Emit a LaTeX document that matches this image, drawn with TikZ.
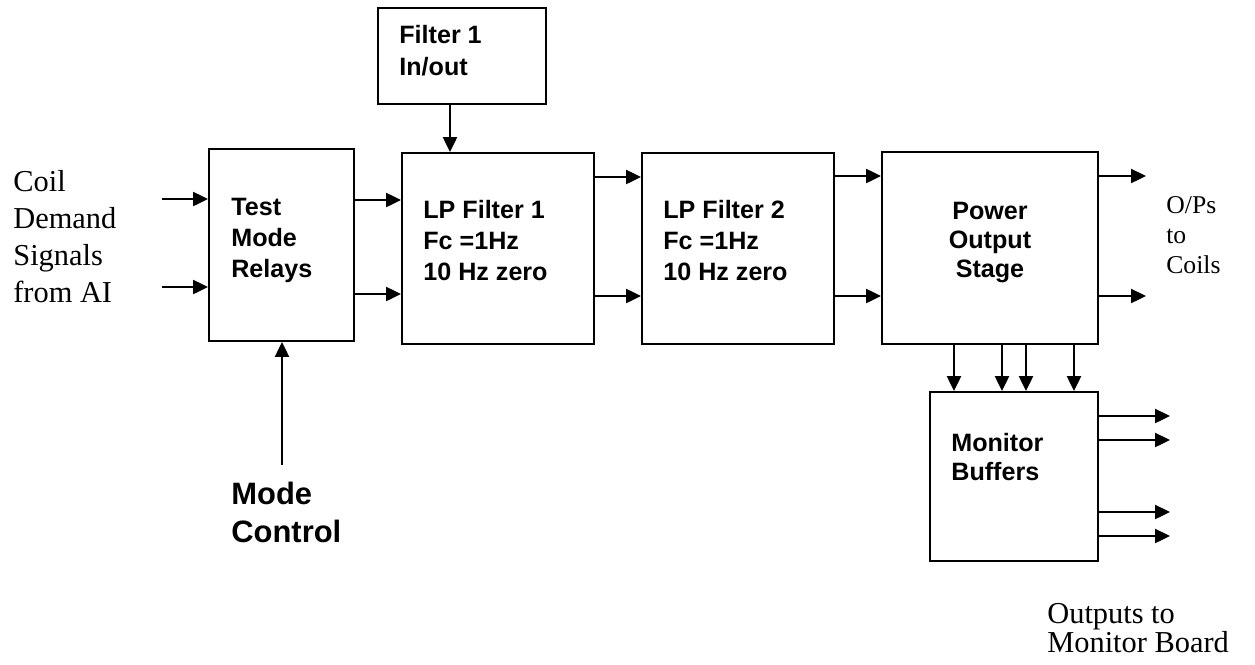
\documentclass[tikz,border=0pt]{standalone}
\usepackage{fontspec}
\setmainfont{Liberation Serif}
\setsansfont{Liberation Sans}
\usepackage{tikz}
\usetikzlibrary{arrows.meta,fit,positioning}

\begin{document}
\begin{tikzpicture}[x=0.02cm,y=-0.02cm,
	  every node/.style={inner sep=0pt},
	  block/.style={draw,line width=1.1pt,inner sep=0pt,fill=white},
	  blocktext/.style={anchor=base west,align=left,font=\sffamily\bfseries\fontsize{14.3}{17.5}\selectfont},
	  bigtext/.style={anchor=base west,align=left,font=\sffamily\bfseries\fontsize{17.6}{21.6}\selectfont},
	  note/.style={anchor=base west,align=left,font=\fontsize{17.3}{21}\selectfont},
	  smallnote/.style={anchor=base west,align=left,font=\fontsize{14.6}{17}\selectfont},
	  sig/.style={-{Triangle[length=8.5pt,width=8pt]},line width=1.1pt}]

	  \useasboundingbox (0,0) rectangle (1255,664);

	  % the blocks
	  \node[block,fit={(378,8) (546,104)}] (filterio) {};
	  \node[block,fit={(209,149) (354,341)}] (relays) {};
	  \node[block,fit={(402,153) (594,344)}] (lpfone) {};
	  \node[block,fit={(642,153) (834,344)}] (lpftwo) {};
	  \node[block,fit={(882,152) (1098,344)}] (power) {};
	  \node[block,fit={(930,392) (1098,561)}] (buffers) {};

	  % the texts in the blocks (placed by the baseline of the last line)
	  \node[blocktext,font=\sffamily\bfseries\fontsize{14.3}{18.2}\selectfont] (filteriotext) at (399,75) {Filter 1\\In/out};
	  \node[blocktext] (relaystext) at (231,277) {Test\\Mode\\Relays};
	  \node[blocktext] (lpfonetext) at (423,280) {LP Filter 1\\Fc =1Hz\\10 Hz zero};
	  \node[blocktext] (lpftwotext) at (663,280) {LP Filter 2\\Fc =1Hz\\10 Hz zero};
	  \node[blocktext,anchor=base,align=center,font=\sffamily\bfseries\fontsize{14.3}{16.5}\selectfont] (powertext) at (990,277) {Power\\Output\\Stage};
	  \node[blocktext,font=\sffamily\bfseries\fontsize{14.3}{16}\selectfont] (bufferstext) at (951,480) {Monitor\\Buffers};

	  % the texts outside
	  \node[note] (coil) at (13,302) {Coil\\Demand\\Signals\\from AI};
	  \node[bigtext] (mode) at (231,542) {Mode\\Control};
	  \node[smallnote] (ops) at (1166,273) {O/Ps\\to\\Coils};
	  \node[note,font=\fontsize{17.3}{16.5}\selectfont] (monout) at (1047,652) {Outputs to\\Monitor Board};

	  % free ends
	  \coordinate (inone) at (162,199);
	  \coordinate (intwo) at (162,287);
	  \coordinate (modein) at (282,465);
	  \coordinate (opone) at (1146,176);
	  \coordinate (optwo) at (1146,296);
	  \coordinate (monone) at (1170,416);
	  \coordinate (montwo) at (1170,440);
	  \coordinate (monthree) at (1170,512);
	  \coordinate (monfour) at (1170,536);

	  \draw[sig] (inone) -- (relays.west |- inone);
	  \draw[sig] (intwo) -- (relays.west |- intwo);
	  \draw[sig] (modein) -- (relays.south -| modein);
	  \draw[sig] (filterio.south -| 450,0) -- (lpfone.north -| 450,0);

	  \draw[sig] (relays.east |- 0,200) -- (lpfone.west |- 0,200);
	  \draw[sig] (relays.east |- 0,294) -- (lpfone.west |- 0,294);
	  \draw[sig] (lpfone.east |- 0,177) -- (lpftwo.west |- 0,177);
	  \draw[sig] (lpfone.east |- 0,296) -- (lpftwo.west |- 0,296);
	  \draw[sig] (lpftwo.east |- opone) -- (power.west |- opone);
	  \draw[sig] (lpftwo.east |- optwo) -- (power.west |- optwo);
	  \draw[sig] (power.east |- opone) -- (opone);
	  \draw[sig] (power.east |- optwo) -- (optwo);

	  \draw[sig] (power.south -| 954,0) -- (buffers.north -| 954,0);
	  \draw[sig] (power.south -| 1002,0) -- (buffers.north -| 1002,0);
	  \draw[sig] (power.south -| 1026,0) -- (buffers.north -| 1026,0);
	  \draw[sig] (power.south -| 1074,0) -- (buffers.north -| 1074,0);

	  \draw[sig] (buffers.east |- monone) -- (monone);
	  \draw[sig] (buffers.east |- montwo) -- (montwo);
	  \draw[sig] (buffers.east |- monthree) -- (monthree);
	  \draw[sig] (buffers.east |- monfour) -- (monfour);
\end{tikzpicture}
\end{document}
